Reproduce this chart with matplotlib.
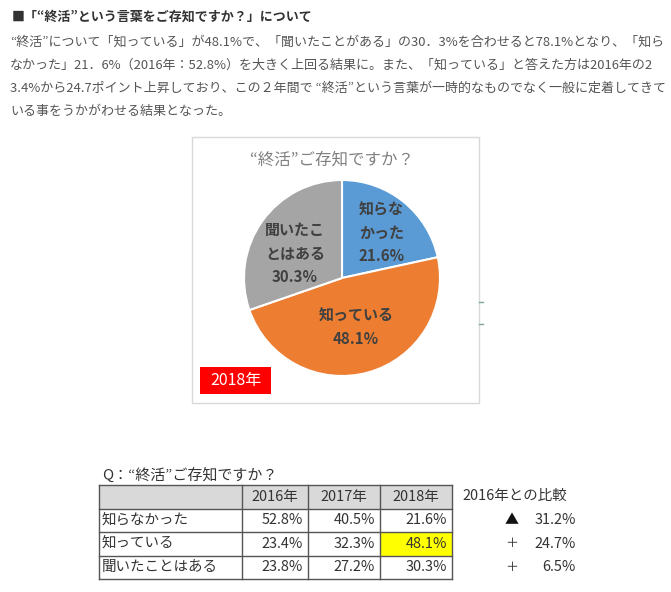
import matplotlib
matplotlib.use("Agg")
import matplotlib.pyplot as plt
from matplotlib.patches import Rectangle
import numpy as np

plt.rcParams['font.family'] = ['Noto Sans CJK JP', 'DejaVu Sans']

# ---------------- data ----------------
heading = "■「“終活”という言葉をご存知ですか？」について"
paragraph_lines = [
    "“終活”について「知っている」が48.1%で、「聞いたことがある」の30．3%を合わせると78.1%となり、「知ら",
    "なかった」21．6%（2016年：52.8%）を大きく上回る結果に。また、「知っている」と答えた方は2016年の2",
    "3.4%から24.7ポイント上昇しており、この２年間で “終活”という言葉が一時的なものでなく一般に定着してきて",
    "いる事をうかがわせる結果となった。",
]
pie_title = "“終活”ご存知ですか？"
pie_names = ["知らな\nかった", "知っている", "聞いたこ\nとはある"]
pie_values = [21.6, 48.1, 30.3]
pie_colors = ["#5B9BD5", "#ED7D31", "#A5A5A5"]
year_badge = "2018年"

table_title = "Q：“終活”ご存知ですか？"
row_labels = ["知らなかった", "知っている", "聞いたことはある"]
col_labels = ["2016年", "2017年", "2018年"]
vals_2016 = [52.8, 23.4, 23.8]
vals_2017 = [40.5, 32.3, 27.2]
vals_2018 = [21.6, 48.1, 30.3]
compare_title = "2016年との比較"
compare_signs = ["▲", "＋", "＋"]
compare_vals = [31.2, 24.7, 6.5]

# ---------------- figure ----------------
W, H = 671, 592
fig = plt.figure(figsize=(W / 100, H / 100), dpi=100)
ax = fig.add_axes([0, 0, 1, 1])
ax.set_xlim(0, W)
ax.set_ylim(H, 0)
ax.axis('off')

def pt(px):
    return px * 0.72

# heading + paragraph
ax.text(12, 17, heading, fontsize=pt(13), fontweight='bold', color='#333333',
        ha='left', va='center')
for i, line in enumerate(paragraph_lines):
    ax.text(10, 42 + i * 23.3, line, fontsize=pt(13), color='#555555',
            ha='left', va='center')

# pie box
ax.add_patch(Rectangle((192, 137), 287, 266, fill=False, edgecolor='#d9d9d9', lw=1))
ax.plot([479, 483], [302, 302], color='#7fa89a', lw=1)
ax.plot([479, 483], [324, 324], color='#7fa89a', lw=1)
ax.text(332, 160, pie_title, fontsize=pt(16.5), color='#808080', ha='center', va='center')

# badge
ax.add_patch(Rectangle((200, 367), 71, 27, facecolor='#FF0000', edgecolor='none'))
ax.text(235.5, 381, year_badge, fontsize=pt(16), color='white', ha='center', va='center')

# pie
cx, cy, r = 342, 278, 98
pax = fig.add_axes([(cx - r) / W, (H - cy - r) / H, 2 * r / W, 2 * r / H])
pax.patch.set_visible(False)
labels = [f"{n}\n{v}%" for n, v in zip(pie_names, pie_values)]
wedges, texts = pax.pie(pie_values, labels=labels, colors=pie_colors, startangle=90,
                        counterclock=False, labeldistance=0.56,
                        wedgeprops=dict(edgecolor='white', linewidth=1.5),
                        textprops=dict(fontsize=pt(15), fontweight='bold', color='#404040'))
label_dist = [0.61, 0.52, 0.54]
label_rot = [-2, 0, 8]
for t, w, d, rot in zip(texts, wedges, label_dist, label_rot):
    mid = np.deg2rad((w.theta1 + w.theta2) / 2 + rot)
    t.set_position((d * np.cos(mid), d * np.sin(mid)))
    t.set_ha('center')
    t.set_va('center')
    t.set_linespacing(1.55)
pax.set_xlim(-1, 1)
pax.set_ylim(-1, 1)
pax.set_aspect('equal')
pax.axis('off')

# table
ax.text(102, 475, table_title, fontsize=pt(15), color='#333333', ha='left', va='center')
col_x = [99, 242, 308, 380, 452]
row_y = [485, 508.5, 532, 555.5, 579]
ax.add_patch(Rectangle((col_x[0], row_y[0]), col_x[-1] - col_x[0], row_y[1] - row_y[0],
                       facecolor='#d9d9d9', edgecolor='none'))
ax.add_patch(Rectangle((col_x[3], row_y[2]), col_x[4] - col_x[3], row_y[3] - row_y[2],
                       facecolor='#FFFF00', edgecolor='none'))
for x in col_x:
    ax.plot([x, x], [row_y[0], row_y[-1]], color='#555555', lw=1)
for y in row_y:
    ax.plot([col_x[0], col_x[-1]], [y, y], color='#555555', lw=1)

fs_tab = pt(14.5)
for j, c in enumerate(col_labels):
    ax.text((col_x[j + 1] + col_x[j + 2]) / 2, (row_y[0] + row_y[1]) / 2, c,
            fontsize=fs_tab, color='#333333', ha='center', va='center')
cols = [vals_2016, vals_2017, vals_2018]
for i, lab in enumerate(row_labels):
    yc = (row_y[i + 1] + row_y[i + 2]) / 2
    ax.text(col_x[0] + 3, yc, lab, fontsize=fs_tab, color='#333333', ha='left', va='center')
    for j, vals in enumerate(cols):
        ax.text(col_x[j + 2] - 5, yc, f"{vals[i]:.1f}%", fontsize=fs_tab, color='#333333',
                ha='right', va='center')
    ax.text(512, yc, compare_signs[i], fontsize=pt(14) if i == 0 else pt(13),
            color='#111111' if i == 0 else '#333333', ha='center', va='center')
    ax.text(576, yc, f"{compare_vals[i]:.1f}%", fontsize=fs_tab, color='#333333',
            ha='right', va='center')
ax.text(462, 496, compare_title, fontsize=fs_tab, color='#333333', ha='left', va='center')

fig.savefig("out.png", dpi=100)
